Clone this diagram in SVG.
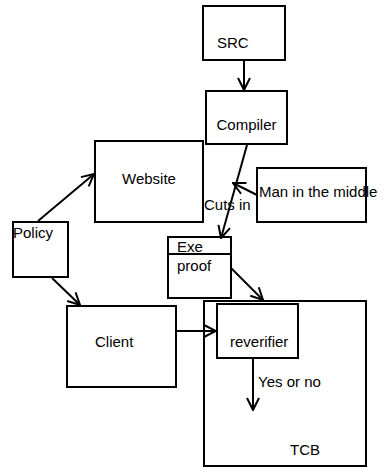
<svg xmlns="http://www.w3.org/2000/svg" width="385" height="468" viewBox="0 0 385 468">
<style>
rect{fill:#fff;stroke:#000;stroke-width:2}
text{font-family:"Liberation Sans",Arial,sans-serif;font-size:15px;fill:#000}
.c line{stroke:#000;stroke-width:2}
</style>
<defs>
<marker id="a" viewBox="0 0 14 14" refX="13" refY="7" markerWidth="14" markerHeight="14" markerUnits="userSpaceOnUse" orient="auto">
<path d="M1,1 L13,7 L1,13" fill="none" stroke="#000" stroke-width="2"/>
</marker>
</defs>
<g id="tcb"><rect x="204" y="301" width="162" height="165"/><text x="290" y="455">TCB</text></g>
<g id="src"><rect x="203" y="6" width="82" height="54"/><text x="217" y="48">SRC</text></g>
<g id="compiler"><rect x="206" y="91" width="81" height="53"/><text x="216.5" y="130">Compiler</text></g>
<g id="website"><rect x="95" y="141" width="108" height="81"/><text x="122" y="184">Website</text></g>
<g id="policy"><rect x="13" y="222" width="55" height="55"/><text x="13" y="238">Policy</text></g>
<g id="mitm"><rect x="257" y="168" width="109" height="54"/><text x="259" y="197">Man in the middle</text></g>
<g id="exe"><rect x="168" y="237" width="63" height="61"/><line x1="168" y1="254" x2="231" y2="254" stroke="#000" stroke-width="2"/><text x="177" y="252">Exe</text><text x="177" y="271">proof</text></g>
<g id="client"><rect x="67" y="306" width="109" height="81"/><text x="95" y="347">Client</text></g>
<g id="reverifier"><rect x="217" y="304" width="81" height="54"/><text x="230" y="347">reverifier</text></g>
<g class="c" id="connectors">
<line x1="244" y1="60" x2="244" y2="90" marker-end="url(#a)"/>
<line x1="247" y1="145" x2="221" y2="238" marker-end="url(#a)"/>
<line x1="257" y1="195" x2="233" y2="183" marker-end="url(#a)"/>
<line x1="38" y1="221" x2="94" y2="174" marker-end="url(#a)"/>
<line x1="52" y1="278" x2="80" y2="305" marker-end="url(#a)"/>
<line x1="231" y1="268" x2="263" y2="300" marker-end="url(#a)"/>
<line x1="176" y1="331" x2="216" y2="331" marker-end="url(#a)"/>
<line x1="253" y1="358" x2="253" y2="410" marker-end="url(#a)"/>
</g>
<text x="204" y="210">Cuts in</text>
<text x="258" y="387">Yes or no</text>
</svg>
